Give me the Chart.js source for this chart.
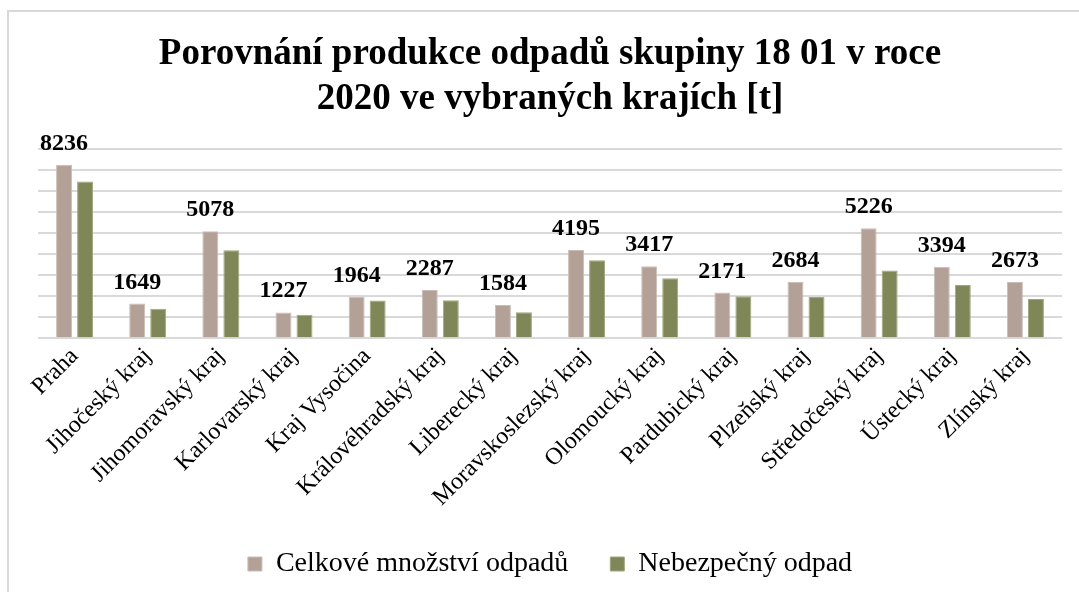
<!DOCTYPE html>
<html>
<head>
<meta charset="utf-8">
<script src="https://cdn.jsdelivr.net/npm/chart.js@4.4.1/dist/chart.umd.min.js"></script>
<style>
  html, body { margin: 0; padding: 0; background: #fff; }
  #wrap { position: relative; width: 1079px; height: 592px; overflow: hidden; }
  #frame { position: absolute; left: 7px; top: 10px; width: 1200px; height: 700px;
           border-left: 2px solid #d9d9d9; border-top: 2px solid #d9d9d9; box-sizing: border-box; }
  canvas { position: absolute; left: 0; top: 0; }
</style>
</head>
<body>
<div id="wrap">
  <div id="frame"></div>
  <canvas id="c" width="1079" height="592"></canvas>
</div>
<script>
const categories = ["Praha", "Jihočeský kraj", "Jihomoravský kraj", "Karlovarský kraj", "Kraj Vysočina",
  "Královéhradský kraj", "Liberecký kraj", "Moravskoslezský kraj", "Olomoucký kraj", "Pardubický kraj",
  "Plzeňský kraj", "Středočeský kraj", "Ústecký kraj", "Zlínský kraj"];
const totalWaste = [8236, 1649, 5078, 1227, 1964, 2287, 1584, 4195, 3417, 2171, 2684, 5226, 3394, 2673];
const hazardousWaste = [7450, 1400, 4180, 1120, 1790, 1800, 1230, 3710, 2850, 1990, 1960, 3220, 2530, 1860];
const seriesNames = ["Celkové množství odpadů", "Nebezpečný odpad"];
const titleLines = ["Porovnání produkce odpadů skupiny 18 01 v roce", "2020 ve vybraných krajích [t]"];
const yMax = 9000;
const yStep = 1000;

const SERIF = "'Liberation Serif', 'Times New Roman', serif";

const valueLabels = {
  id: 'valueLabels',
  afterDatasetsDraw(chart) {
    const ctx = chart.ctx;
    const meta = chart.getDatasetMeta(0);
    ctx.save();
    ctx.font = "bold 24px " + SERIF;
    ctx.fillStyle = "#000";
    ctx.textAlign = "center";
    ctx.textBaseline = "alphabetic";
    meta.data.forEach((bar, i) => {
      ctx.fillText(String(totalWaste[i]), bar.x, bar.y - 15);
    });
    ctx.restore();
  }
};

new Chart(document.getElementById('c'), {
  type: 'bar',
  data: {
    labels: categories,
    datasets: [
      { label: seriesNames[0], data: totalWaste, backgroundColor: '#b3a097', borderColor: '#cbbdb5', borderWidth: 1,
        categoryPercentage: 0.575, barPercentage: 0.76 },
      { label: seriesNames[1], data: hazardousWaste, backgroundColor: '#7f8759', borderColor: '#a0a67e', borderWidth: 1,
        categoryPercentage: 0.575, barPercentage: 0.76 }
    ]
  },
  options: {
    responsive: false,
    animation: false,
    devicePixelRatio: 1,
    layout: { padding: { left: 38, right: 17, top: 0, bottom: 4 } },
    plugins: {
      title: {
        display: true,
        text: titleLines,
        color: '#000',
        font: { family: SERIF, size: 37, weight: 'bold', lineHeight: 1.24 },
        padding: { top: 31, bottom: 26 }
      },
      legend: {
        position: 'bottom',
        labels: {
          color: '#000',
          font: { family: SERIF, size: 28 },
          boxWidth: 14, boxHeight: 14,
          padding: 42
        }
      },
      tooltip: { enabled: false }
    },
    scales: {
      x: {
        grid: { display: false },
        border: { display: false },
        ticks: { color: '#000', font: { family: SERIF, size: 24 }, maxRotation: 45, minRotation: 45, padding: -4 }
      },
      y: {
        min: 0, max: yMax,
        ticks: { display: false, stepSize: yStep },
        grid: { color: '#d9d9d9', lineWidth: 2, drawTicks: false },
        border: { display: false }
      }
    }
  },
  plugins: [valueLabels]
});
</script>
</body>
</html>
